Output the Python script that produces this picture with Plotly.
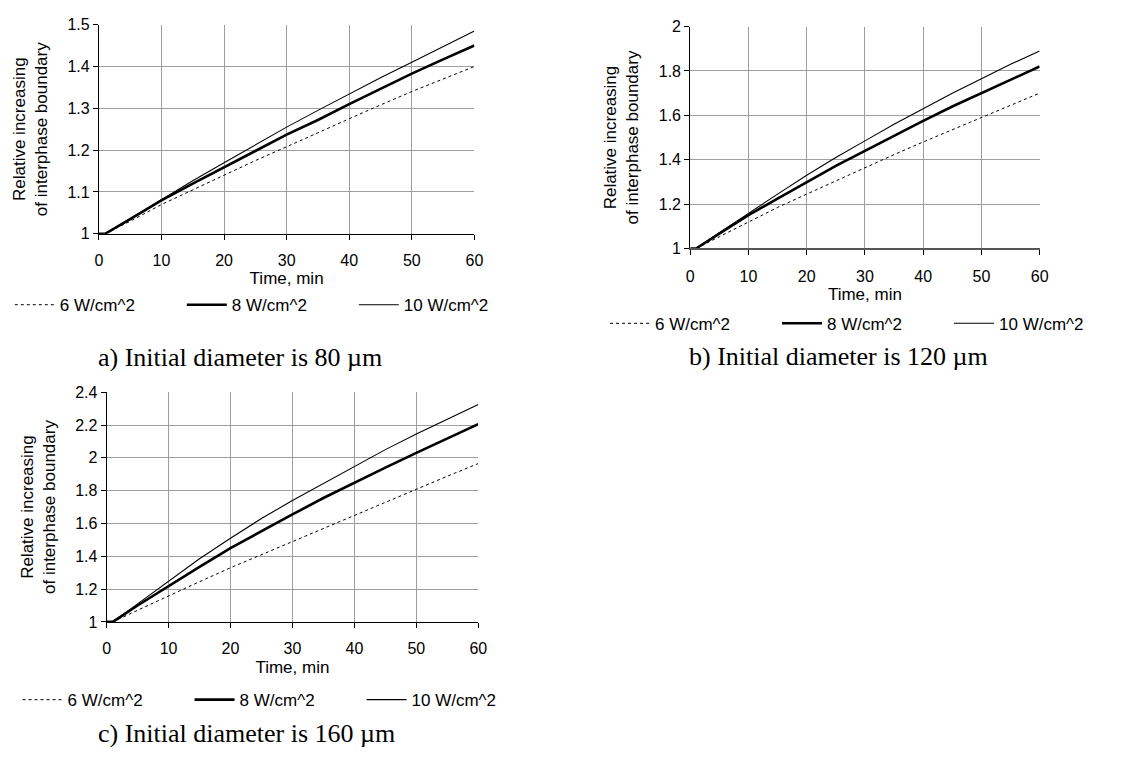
import plotly.graph_objects as go

# ---------------- data ----------------
time_min = [0, 1, 5, 10, 15, 20, 25, 30, 35, 40, 45, 50, 55, 60]

# a) initial diameter 80 um
a_6w = [1, 1, 1.03, 1.07, 1.105, 1.14, 1.175, 1.208, 1.242, 1.275, 1.308, 1.34, 1.37, 1.40]
a_8w = [1, 1, 1.035, 1.08, 1.12, 1.16, 1.198, 1.237, 1.272, 1.31, 1.347, 1.383, 1.417, 1.45]
a_10w = [1, 1, 1.036, 1.082, 1.127, 1.17, 1.213, 1.255, 1.295, 1.335, 1.373, 1.41, 1.448, 1.485]

# b) initial diameter 120 um
b_6w = [1, 1, 1.053, 1.12, 1.185, 1.245, 1.305, 1.365, 1.423, 1.48, 1.535, 1.59, 1.645, 1.70]
b_8w = [1, 1, 1.067, 1.15, 1.225, 1.30, 1.372, 1.44, 1.508, 1.575, 1.64, 1.70, 1.76, 1.82]
b_10w = [1, 1, 1.071, 1.16, 1.245, 1.33, 1.41, 1.485, 1.56, 1.63, 1.70, 1.765, 1.83, 1.89]

# c) initial diameter 160 um
c_6w = [1, 1, 1.071, 1.16, 1.245, 1.33, 1.41, 1.49, 1.57, 1.65, 1.73, 1.81, 1.888, 1.965]
c_8w = [1, 1, 1.10, 1.22, 1.335, 1.45, 1.555, 1.655, 1.755, 1.85, 1.94, 2.03, 2.12, 2.205]
c_10w = [1, 1, 1.11, 1.25, 1.385, 1.51, 1.63, 1.74, 1.845, 1.95, 2.05, 2.145, 2.235, 2.325]

series_names = ["6 W/cm^2", "8 W/cm^2", "10 W/cm^2"]
captions = ["a) Initial diameter is 80 \u00b5m",
            "b) Initial diameter is 120 \u00b5m",
            "c) Initial diameter is 160 \u00b5m"]
x_title = "Time, min"
y_title = "Relative increasing<br>of interphase boundary"

# ---------------- layout helpers ----------------
W, H = 1121, 758
def xd(l, r):
    return [l / W, r / W]
def yd(t, b):
    return [1 - b / H, 1 - t / H]

panels = [
    dict(data=[a_6w, a_8w, a_10w], xdom=xd(98, 486), ydom=yd(17, 231),
         yrange=[1, 1.5], dtick=0.1, legend="legend", xline=(1, "black")),
    dict(data=[b_6w, b_8w, b_10w], xdom=xd(709, 1070), ydom=yd(19, 246),
         yrange=[1, 2], dtick=0.2, legend="legend2", xline=(2, "#555555")),
    dict(data=[c_6w, c_8w, c_10w], xdom=xd(106, 490), ydom=yd(393, 628),
         yrange=[1, 2.4], dtick=0.2, legend="legend3", xline=(1, "black")),
]

styles = [dict(color="black", width=1, dash="dot"),
          dict(color="black", width=2.6),
          dict(color="black", width=1.1)]

FONT = "Liberation Sans, Arial, sans-serif"
GRID = "#9e9e9e"
fig = go.Figure()

layout = dict(width=W, height=H, margin=dict(l=0, r=0, t=0, b=0),
              paper_bgcolor="white", plot_bgcolor="white",
              font=dict(family=FONT, size=16, color="black"))

for i, p in enumerate(panels):
    n = "" if i == 0 else str(i + 1)
    for s, (vals, st) in enumerate(zip(p["data"], styles)):
        fig.add_trace(go.Scatter(x=time_min, y=vals, mode="lines", name=series_names[s],
                                 line=st, xaxis="x" + n, yaxis="y" + n,
                                 legend=p["legend"], showlegend=True))
    lw, lc = p["xline"]
    layout["xaxis" + n] = dict(domain=p["xdom"], anchor="y" + n, range=[0, 60], dtick=10,
                               showgrid=True, gridcolor=GRID, gridwidth=1,
                               showline=True, linecolor=lc, linewidth=lw,
                               ticks="outside", ticklen=5, tickcolor="black",
                               tickfont=dict(size=16), zeroline=False, ticklabelstandoff=7,
                               title=dict(text=x_title, font=dict(size=17), standoff=4))
    layout["yaxis" + n] = dict(domain=p["ydom"], anchor="x" + n, range=p["yrange"], dtick=p["dtick"],
                               showgrid=True, gridcolor=GRID, gridwidth=1,
                               showline=True, linecolor="black", linewidth=1,
                               ticks="outside", ticklen=5, tickcolor="black",
                               tickfont=dict(size=16), zeroline=False,
                               title=dict(text=y_title, font=dict(size=17), standoff=15))

legend_pos = [(6, 304), (621, 323), (14, 708)]
for i, (lx, ly) in enumerate(legend_pos):
    key = "legend" if i == 0 else "legend" + str(i + 1)
    layout[key] = dict(orientation="h", x=lx / W, xanchor="left", y=1 - ly / H, yanchor="middle",
                       entrywidth=117, itemwidth=40, font=dict(size=17), bgcolor="rgba(0,0,0,0)",
                       traceorder="normal")

cap_pos = [(244, 358), (862, 356), (251, 742)]
annotations = []
for txt, (cx, cy) in zip(captions, cap_pos):
    annotations.append(dict(text=txt, x=cx / W, y=1 - cy / H, xref="paper", yref="paper",
                            xanchor="center", yanchor="middle", showarrow=False,
                            font=dict(family="Liberation Serif, Times New Roman, serif", size=26, color="black")))
layout["annotations"] = annotations

fig.update_layout(**layout)
fig.write_html("out.html")
